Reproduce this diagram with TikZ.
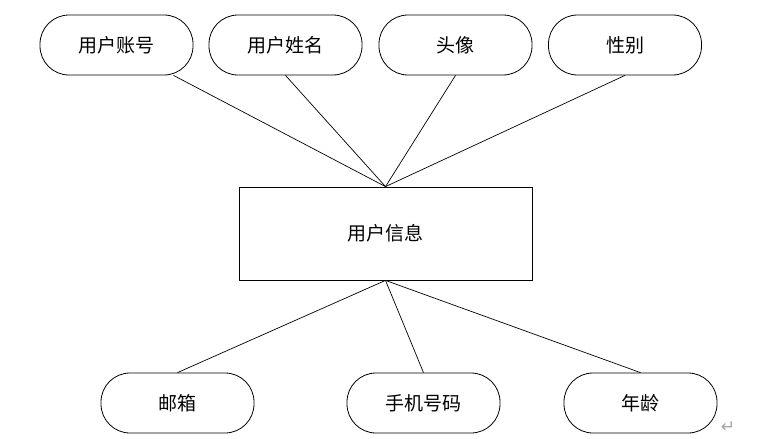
\documentclass[tikz,border=0pt]{standalone}
\usepackage{fontspec}
\setmainfont{Noto Sans CJK SC}
\newfontfamily\symfont{DejaVu Sans}
\usetikzlibrary{calc}

\tikzset{
  attr/.style={draw, rectangle, rounded corners=29pt, minimum width=153pt,
    minimum height=60pt, line width=0.8pt, font=\fontsize{19}{21}\selectfont},
  entity/.style={draw, rectangle, minimum width=293pt, minimum height=93pt,
    line width=0.8pt, font=\fontsize{19}{21}\selectfont},
  link/.style={line width=0.7pt}
}

\begin{document}
\begin{tikzpicture}[x=1pt, y=-1pt]
  \useasboundingbox (0,0) rectangle (779,439);
  \node[entity] (info) at (385.5,233.5) {用户信息};
  % attributes above
  \node[attr] (acct) at (116.5,45) {用户账号};
  \node[attr] (name) at (285.5,45) {用户姓名};
  \node[attr] (head) at (455.5,45) {头像};
  \node[attr] (sex)  at (625,45)   {性别};
  % attributes below
  \node[attr] (mail)  at (177.5,403) {邮箱};
  \node[attr] (phone) at (423.5,403) {手机号码};
  \node[attr] (age)   at (640.5,403) {年龄};

  \draw[link] ($(acct.south)+(57,0)$) -- (info.north);
  \draw[link] (name.south) -- (info.north);
  \draw[link] (head.south) -- (info.north);
  \draw[link] (sex.south) -- (info.north);
  \draw[link] (info.south) -- (mail.north);
  \draw[link] (info.south) -- (phone.north);
  \draw[link] (info.south) -- (age.north);

  \node[text=gray!70, font=\symfont\fontsize{17}{17}\selectfont] (mark) at (728,427) {↵};
\end{tikzpicture}
\end{document}
